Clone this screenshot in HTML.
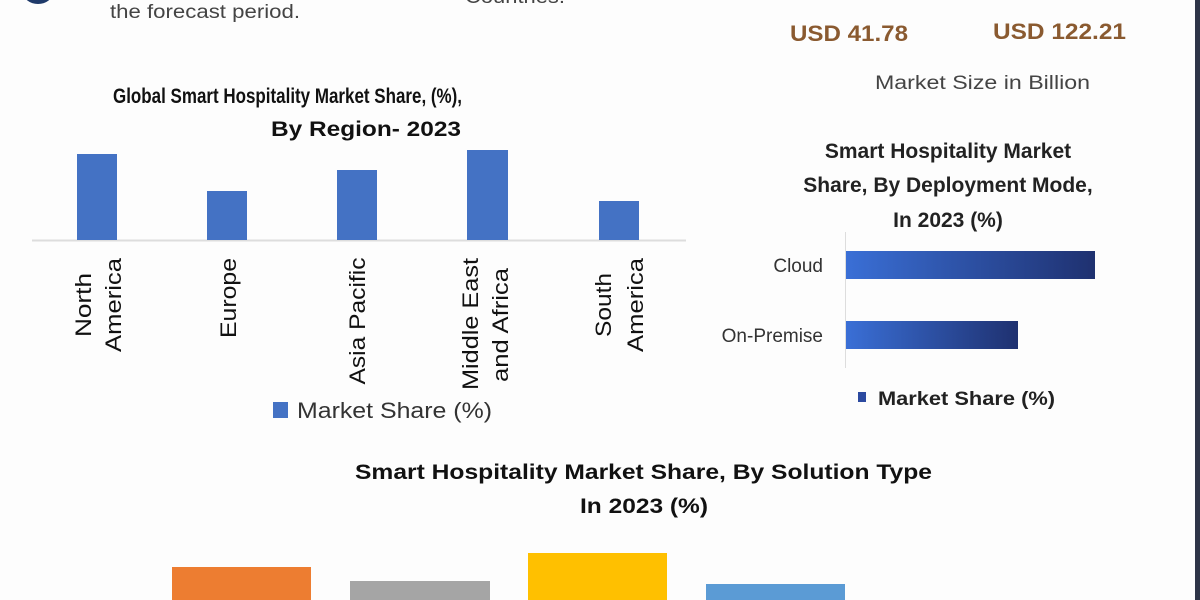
<!DOCTYPE html>
<html><head><meta charset="utf-8"><style>
html,body{margin:0;padding:0;background:#fdfdfd;}
svg{display:block}
</style></head><body>
<svg width="1200" height="600" viewBox="0 0 1200 600" xmlns="http://www.w3.org/2000/svg" font-family="Liberation Sans, sans-serif">
<defs>
<linearGradient id="g" x1="0" x2="1" y1="0" y2="0"><stop offset="0" stop-color="#3a6fd6"/><stop offset="1" stop-color="#1f3170"/></linearGradient>
</defs>
<rect width="1200" height="600" fill="#fdfdfd"/>
<rect x="1195" y="0" width="5" height="600" fill="#2e3448"/>
<ellipse cx="38" cy="-8" rx="15" ry="12" fill="#1f3a6a"/>
<text x="110" y="18" font-size="19" fill="#444" textLength="190" lengthAdjust="spacingAndGlyphs">the forecast period.</text>
<text x="465" y="3" font-size="19" fill="#444" textLength="100" lengthAdjust="spacingAndGlyphs">Countries.</text>
<text x="790" y="41" font-size="22" font-weight="bold" fill="#8a5a30" textLength="118" lengthAdjust="spacingAndGlyphs">USD 41.78</text>
<text x="993" y="39" font-size="22" font-weight="bold" fill="#8a5a30" textLength="133" lengthAdjust="spacingAndGlyphs">USD 122.21</text>
<text x="875" y="89" font-size="19" fill="#444" textLength="215" lengthAdjust="spacingAndGlyphs">Market Size in Billion</text>
<!-- chart 1 -->
<g font-weight="bold" font-size="21" fill="#111">
<text x="113" y="103" textLength="349" lengthAdjust="spacingAndGlyphs">Global Smart Hospitality Market Share, (%),</text>
<text x="271" y="136" textLength="190" lengthAdjust="spacingAndGlyphs">By Region- 2023</text>
</g>
<line x1="32" y1="240.5" x2="686" y2="240.5" stroke="#ddd" stroke-width="2"/>
<g fill="#4472c4">
<rect x="77" y="154" width="40" height="86"/>
<rect x="207" y="191" width="40" height="49"/>
<rect x="337" y="170" width="40" height="70"/>
<rect x="467" y="150" width="41" height="90"/>
<rect x="599" y="201" width="40" height="39"/>
</g>
<g font-size="22" fill="#111" text-anchor="middle">
<text transform="translate(91,305) rotate(-90)" textLength="64" lengthAdjust="spacingAndGlyphs">North</text>
<text transform="translate(121,305) rotate(-90)" textLength="94" lengthAdjust="spacingAndGlyphs">America</text>
<text transform="translate(236,298) rotate(-90)" textLength="80" lengthAdjust="spacingAndGlyphs">Europe</text>
<text transform="translate(365,321) rotate(-90)" textLength="127" lengthAdjust="spacingAndGlyphs">Asia Pacific</text>
<text transform="translate(478,324) rotate(-90)" textLength="132" lengthAdjust="spacingAndGlyphs">Middle East</text>
<text transform="translate(508,325) rotate(-90)" textLength="114" lengthAdjust="spacingAndGlyphs">and Africa</text>
<text transform="translate(611,305) rotate(-90)" textLength="64" lengthAdjust="spacingAndGlyphs">South</text>
<text transform="translate(643,305) rotate(-90)" textLength="94" lengthAdjust="spacingAndGlyphs">America</text>
</g>
<rect x="273" y="402" width="15" height="16" fill="#4472c4"/>
<text x="297" y="418" font-size="22" fill="#333" textLength="195" lengthAdjust="spacingAndGlyphs">Market Share (%)</text>
<!-- chart 2 -->
<g font-weight="bold" font-size="21" fill="#222" text-anchor="middle">
<text x="948" y="158">Smart Hospitality Market</text>
<text x="948" y="192">Share, By Deployment Mode,</text>
<text x="948" y="227">In 2023 (%)</text>
</g>
<line x1="845.5" y1="232" x2="845.5" y2="368" stroke="#ddd" stroke-width="1"/>
<rect x="846" y="251" width="249" height="28" fill="url(#g)"/>
<rect x="846" y="321" width="172" height="28" fill="url(#g)"/>
<g font-size="19" fill="#333" text-anchor="end">
<text x="823" y="272">Cloud</text>
<text x="823" y="342">On-Premise</text>
</g>
<rect x="858" y="392" width="8" height="10" fill="#2c4aa0"/>
<text x="878" y="405" font-size="19" font-weight="bold" fill="#222" textLength="177" lengthAdjust="spacingAndGlyphs">Market Share (%)</text>
<!-- chart 3 -->
<g font-weight="bold" font-size="21" fill="#111">
<text x="355" y="479" textLength="577" lengthAdjust="spacingAndGlyphs">Smart Hospitality Market  Share, By Solution Type</text>
<text x="580" y="513" textLength="128" lengthAdjust="spacingAndGlyphs">In 2023 (%)</text>
</g>
<rect x="172" y="567" width="139" height="33" fill="#ed7d31"/>
<rect x="350" y="581" width="140" height="19" fill="#a5a5a5"/>
<rect x="528" y="553" width="139" height="47" fill="#ffc000"/>
<rect x="706" y="584" width="139" height="16" fill="#5b9bd5"/>
</svg>
</body></html>
